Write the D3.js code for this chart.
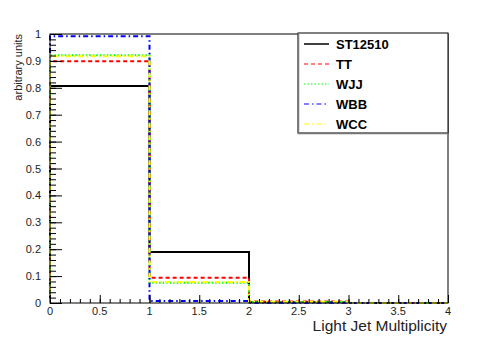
<!DOCTYPE html>
<html>
<head>
<meta charset="utf-8">
<script src="https://cdn.jsdelivr.net/npm/d3@7"></script>
<style>
  body { margin: 0; background: #fff; }
  svg { display: block; }
</style>
</head>
<body>
<div id="chart"></div>
<script>
// bin edges and per-sample fractions
var binEdges = [0, 1, 2, 3, 4];
var seriesNames = ["ST12510", "TT", "WJJ", "WBB", "WCC"];
var st12510 = [0.807, 0.190, 0.003, 0.0];
var tt = [0.899, 0.094, 0.006, 0.0];
var wjj = [0.921, 0.075, 0.004, 0.0];
var wbb = [0.992, 0.007, 0.001, 0.0];
var wcc = [0.917, 0.078, 0.005, 0.0];
var yTicks = [0, 0.1, 0.2, 0.3, 0.4, 0.5, 0.6, 0.7, 0.8, 0.9, 1];
var xTicks = [0, 0.5, 1, 1.5, 2, 2.5, 3, 3.5, 4];

var seriesValues = [st12510, tt, wjj, wbb, wcc];
var seriesColors = ["#000000", "#ff0000", "#00ff00", "#0000ff", "#ffff00"];
var seriesDash = [null, "4,3", "1.5,2", "5,3,1.5,3", "5,3,1.5,3"];

var width = 498, height = 338;
var padL = 50, padR = 448, padT = 34, padB = 303;

var svg = d3.select("#chart").append("svg")
    .attr("width", width)
    .attr("height", height);

var x = d3.scaleLinear().domain([0, 4]).range([padL, padR]);
var y = d3.scaleLinear().domain([0, 1]).range([padB, padT]);

// histograms drawn as steps
var line = d3.line()
    .x(function (d) { return x(d[0]); })
    .y(function (d) { return y(d[1]); });

seriesValues.forEach(function (vals, s) {
    var pts = [[binEdges[0], 0]];
    vals.forEach(function (v, i) {
        pts.push([binEdges[i], v]);
        pts.push([binEdges[i + 1], v]);
    });
    pts.push([binEdges[binEdges.length - 1], 0]);
    svg.append("path")
        .attr("d", line(pts))
        .attr("fill", "none")
        .attr("stroke", seriesColors[s])
        .attr("stroke-width", 2)
        .attr("stroke-dasharray", seriesDash[s]);
});

// frame
svg.append("rect")
    .attr("x", padL).attr("y", padT)
    .attr("width", padR - padL).attr("height", padB - padT)
    .attr("fill", "none").attr("stroke", "#000").attr("stroke-width", 1);

// y axis
svg.append("g").attr("transform", "translate(" + padL + ",0)")
    .call(d3.axisRight(y).tickValues(yTicks).tickSize(12).tickFormat(""))
    .call(function (g) { g.select(".domain").remove(); });
svg.append("g").attr("transform", "translate(" + padL + ",0)")
    .call(d3.axisRight(y).tickValues(d3.range(0, 1.0001, 0.02)).tickSize(6).tickFormat(""))
    .call(function (g) { g.select(".domain").remove(); });
svg.selectAll(".yl").data(yTicks).enter().append("text")
    .attr("x", padL - 9)
    .attr("y", function (d) { return y(d) + 4; })
    .attr("text-anchor", "end")
    .attr("font-family", "Liberation Sans, Arial, sans-serif")
    .attr("font-size", "11px")
    .attr("fill", "#222")
    .text(function (d) { return d3.format("")(d); });

// x axis
svg.append("g").attr("transform", "translate(0," + padB + ")")
    .call(d3.axisTop(x).tickValues(xTicks).tickSize(8).tickFormat(""))
    .call(function (g) { g.select(".domain").remove(); });
svg.append("g").attr("transform", "translate(0," + padB + ")")
    .call(d3.axisTop(x).tickValues(d3.range(0, 4.0001, 0.1)).tickSize(4).tickFormat(""))
    .call(function (g) { g.select(".domain").remove(); });
svg.selectAll(".xl").data(xTicks).enter().append("text")
    .attr("x", function (d) { return x(d); })
    .attr("y", padB + 12)
    .attr("text-anchor", "middle")
    .attr("font-family", "Liberation Sans, Arial, sans-serif")
    .attr("font-size", "11px")
    .attr("fill", "#222")
    .text(function (d) { return d3.format("")(d); });

// axis titles
svg.append("text")
    .attr("x", padR - 1)
    .attr("y", 331)
    .attr("text-anchor", "end")
    .attr("font-family", "Liberation Sans, Arial, sans-serif")
    .attr("font-size", "15.5px")
    .attr("fill", "#222")
    .text("Light Jet Multiplicity");
svg.append("text")
    .attr("transform", "translate(22," + padT + ") rotate(-90)")
    .attr("text-anchor", "end")
    .attr("font-family", "Liberation Sans, Arial, sans-serif")
    .attr("font-size", "11px")
    .attr("fill", "#222")
    .text("arbitrary units");

// legend
var lg = svg.append("g");
lg.append("rect")
    .attr("x", 298).attr("y", 33)
    .attr("width", 150).attr("height", 100)
    .attr("fill", "#fff").attr("stroke", "#000").attr("stroke-width", 1);
lg.append("path")
    .attr("d", "M298.5,33 V133.5 H448")
    .attr("fill", "none").attr("stroke", "#777").attr("stroke-width", 1.5);
seriesNames.forEach(function (name, i) {
    var yy = 44 + i * 20;
    lg.append("line")
        .attr("x1", 304).attr("x2", 329)
        .attr("y1", yy).attr("y2", yy)
        .attr("stroke", seriesColors[i])
        .attr("stroke-width", i === 0 ? 1.5 : 1.2)
        .attr("stroke-dasharray", seriesDash[i]);
    lg.append("text")
        .attr("x", 336).attr("y", yy + 5)
        .attr("font-family", "Liberation Sans, Arial, sans-serif")
        .attr("font-size", "13px")
        .attr("font-weight", "bold")
        .attr("fill", "#000")
        .text(name);
});
</script>
</body>
</html>
